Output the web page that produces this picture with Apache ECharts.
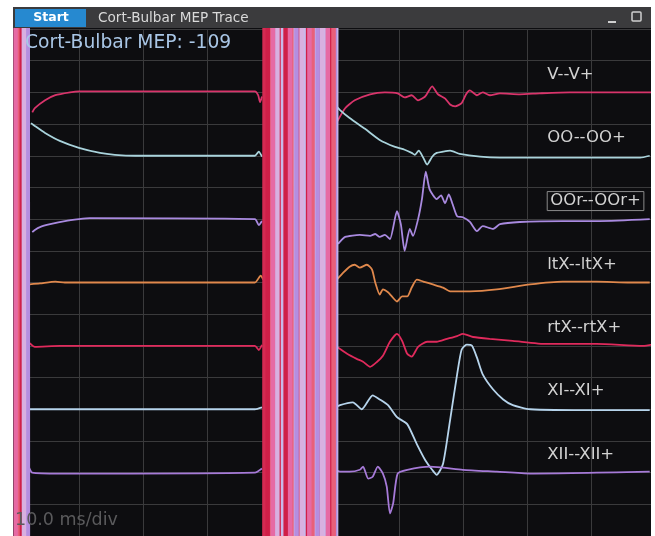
<!DOCTYPE html>
<html>
<head>
<meta charset="utf-8">
<script src="https://cdn.jsdelivr.net/npm/echarts@6/dist/echarts.min.js"></script>
<style>html,body{margin:0;padding:0;background:#fff}#c{width:655px;height:536px}</style>
</head>
<body>
<div id="c"></div>
<script>
// ---- trace names & baselines (in divisions) ----
const NAMES = ['V--V+','OO--OO+','OOr--OOr+','ltX--ltX+','rtX--rtX+','XI--XI+','XII--XII+'];
const BASES = [14, 12, 10, 8, 6, 4, 2];
const COLORS = ['#d9346b','#a9d3dc','#a98ae0','#e0884c','#e02a5c','#b6d4ec','#a67ad8'];
const ART_COLORS = ['#d42a52','#c9b9ea','#b58ee0','#e8607a','#cf1f48','#d8b0e0','#e66aa4'];

// ---- traces: [time ms, deviation in div] before and after stimulus artifact ----
const V_PRE = [[2.7,-0.63],[3.1,-0.5],[4.7,-0.25],[6.3,-0.09],[8.6,0],[10,0.03],[21.1,0.03],[37.5,0.03],[38.0,-0.09],[38.3,-0.31],[38.6,-0.13]];
const V_POST = [[50.3,-0.94],[51.6,-0.5],[53.1,-0.25],[55.5,-0.06],[57.8,0],[59.8,-0.03],[60.9,-0.16],[62.0,-0.09],[63.0,-0.25],[64.1,-0.13],[65.2,0.19],[66.1,-0.06],[67.2,-0.19],[68.0,-0.38],[68.8,-0.44],[69.8,-0.34],[70.5,-0.06],[71.1,0.06],[72.2,-0.09],[73.1,0],[74.2,-0.09],[75.8,-0.03],[78.9,-0.06],[82.0,-0.03],[86.7,0],[93.0,0],[100,0]];
const OO_PRE = [[2.5,1.03],[3.1,0.94],[4.7,0.72],[7.0,0.47],[10,0.25],[13.3,0.09],[15.6,0.03],[18.8,0],[37.5,0],[38.1,0.13],[38.6,-0.03]];
const OO_POST = [[49.8,1.66],[50.8,1.44],[52.3,1.19],[54.7,0.85],[57.0,0.5],[59.4,0.28],[60.9,0.19],[62.0,0.09],[62.5,0.03],[63.1,0.16],[63.8,-0.06],[64.4,-0.28],[65.2,-0.03],[65.9,0.09],[66.9,0.13],[68.0,0.16],[69.5,0.06],[72.7,-0.03],[75.8,-0.06],[85.2,-0.06],[97.7,-0.06],[99.2,0]];
const OOR_PRE = [[2.7,-0.41],[3.1,-0.34],[3.9,-0.25],[5.5,-0.16],[7.8,-0.06],[10,0],[11.7,0.03],[37.5,0],[38.1,-0.19],[38.6,-0.06]];
const OOR_POST = [[50.5,-0.78],[51.6,-0.56],[53.9,-0.5],[55.5,-0.53],[56.3,-0.47],[57.0,-0.56],[57.8,-0.5],[58.6,-0.63],[59.7,0.25],[60.3,-0.16],[60.9,-1.0],[61.7,-0.31],[62.2,-0.53],[63.0,0],[63.6,0.63],[64.2,1.5],[64.8,0.94],[65.9,0.63],[66.6,0.75],[67.2,0.5],[67.8,0.78],[68.4,0.47],[69.1,0.09],[70.0,0.06],[71.1,-0.09],[72.2,-0.38],[73.1,-0.22],[74.7,-0.31],[75.8,-0.16],[78.9,-0.09],[85.6,-0.06],[91.4,-0.06],[99.2,0]];
const LTX_PRE = [[2.3,-0.06],[3.9,-0.03],[6.3,0.03],[7.8,0],[37.5,0],[38.4,0.22],[38.8,0.09]];
const LTX_POST = [[50.3,0.09],[51.3,0.31],[52.3,0.5],[53.1,0.56],[53.9,0.47],[55.0,0.56],[55.8,0.41],[56.3,0],[57.0,-0.38],[57.5,-0.22],[58.3,-0.31],[58.9,-0.44],[59.7,-0.6],[60.5,-0.44],[61.3,-0.44],[62.0,-0.16],[62.8,0.09],[63.8,0.03],[65.3,-0.06],[66.9,-0.16],[68.0,-0.28],[71.1,-0.28],[75.3,-0.22],[80.5,-0.06],[85.6,0.03],[90.9,0.03],[96.1,0],[99.2,0]];
const RTX_PRE = [[2.3,0.09],[3.1,-0.03],[7.0,0],[37.5,0],[38.1,-0.13],[38.6,0.03]];
const RTX_POST = [[50.3,-0.03],[51.9,-0.25],[53.4,-0.41],[54.4,-0.5],[55.5,-0.66],[56.6,-0.5],[57.5,-0.31],[58.6,0.13],[59.7,0.38],[60.5,0.16],[61.3,-0.25],[62.0,-0.34],[63.0,-0.03],[64.4,0.13],[65.9,0.13],[67.5,0.22],[69.1,0.31],[70.0,0.38],[71.6,0.28],[74.2,0.22],[77.8,0.16],[83.1,0.06],[90.9,0.06],[98.1,0],[100,0.06]];
const XI_PRE = [[1.4,0.22],[1.9,0],[37.5,0],[38.6,0.06]];
const XI_POST = [[49.5,0],[50.8,0.13],[52.8,0.22],[54.2,0],[55.9,0.44],[57.0,0.31],[58.3,0.13],[59.7,-0.25],[61.3,-0.47],[62.8,-1.1],[64.1,-1.6],[65.2,-1.91],[65.9,-2.07],[66.9,-1.72],[68.0,-0.34],[69.1,1.1],[69.8,1.88],[70.6,2.04],[71.4,2.01],[72.2,1.63],[73.1,1.1],[74.7,0.63],[76.3,0.31],[77.8,0.13],[80.5,0],[90.9,-0.03],[99.2,-0.03]];
const XII_PRE = [[2.2,0.16],[2.7,0],[7.0,-0.03],[37.5,0],[38.6,0.13]];
const XII_POST = [[49.7,0.13],[50.8,0.03],[52.3,0.03],[53.9,0.09],[54.4,0.19],[55.2,-0.19],[55.9,-0.13],[56.7,0.19],[57.5,-0.03],[58.1,-0.44],[58.6,-1.29],[59.1,-0.97],[59.8,-0.03],[61.3,0.09],[64.8,0.19],[70.0,0.09],[75.3,0.03],[80.5,-0.03],[99.2,0.03]];

// ---- saturated stimulus artifact: times (ms) of full-scale swings per trace ----
const V_ART = [0.8, 39.0, 41.3, 42.8, 44.5, 46.2, 47.8, 49.4];
const OO_ART = [1.7, 40.0, 41.9, 43.6, 45.2, 46.9, 48.6, 50.2];
const OOR_ART = [2.0, 40.6, 44.0, 47.3, 50.0];
const LTX_ART = [0.4, 39.8, 43.2, 46.5, 49.8];
const RTX_ART = [1.1, 39.5, 42.3, 45.8, 49.0];
const XI_ART = [1.4, 41.0, 44.8, 48.0];
const XII_ART = [0.1, 40.3, 43.0, 46.0, 48.9];

const PRE = [V_PRE, OO_PRE, OOR_PRE, LTX_PRE, RTX_PRE, XI_PRE, XII_PRE];
const POST = [V_POST, OO_POST, OOR_POST, LTX_POST, RTX_POST, XI_POST, XII_POST];
const ART = [V_ART, OO_ART, OOR_ART, LTX_ART, RTX_ART, XI_ART, XII_ART];

const LABEL_T = 83.1, LABEL_DY = 0.57, ART_AMP = 30;
const FONT = '"DejaVu Sans", sans-serif';

function shift(arr, b) { return arr.map(p => [p[0], b + p[1]]); }
function stripes(times, b) {
  const pts = []; let s = 1;
  times.forEach(t => { pts.push([t - 0.04, b + s * ART_AMP]); pts.push([t + 0.04, b - s * ART_AMP]); s = -s; });
  return pts;
}

const series = [];
NAMES.forEach((n, i) => {
  const b = BASES[i];
  series.push({
    type: 'line', name: n, showSymbol: false, smooth: 0.2, animation: false,
    lineStyle: { color: COLORS[i], width: 1.8 },
    data: shift(PRE[i], b).concat([[null, null]], shift(POST[i], b)),
    markPoint: {
      silent: true, animation: false, symbol: 'rect', symbolSize: 1,
      itemStyle: { color: 'rgba(0,0,0,0)' },
      label: {
        show: true, position: 'right', distance: 0, formatter: n,
        color: '#d2d2d2', fontSize: 16.5, fontFamily: FONT,
        borderColor: i === 2 ? '#8a8a8a' : 'transparent', borderWidth: i === 2 ? 1 : 0,
        padding: i === 2 ? [1, 3, 1, 3] : 0
      },
      data: [{ coord: [LABEL_T, b + LABEL_DY] }]
    }
  });
});
NAMES.forEach((n, i) => {
  series.push({
    type: 'line', name: n + ' artifact', showSymbol: false, animation: false,
    lineStyle: { color: ART_COLORS[i], width: 4.5 },
    data: stripes(ART[i], BASES[i])
  });
});

const chart = echarts.init(document.getElementById('c'), null, { renderer: 'canvas' });
chart.setOption({
  backgroundColor: '#0d0d10',
  animation: false,
  grid: { left: 15, right: 4, top: 29, bottom: -3 },
  xAxis: {
    type: 'value', min: 0, max: 99.4, interval: 10,
    axisLine: { show: false }, axisTick: { show: false }, axisLabel: { show: false },
    splitLine: { show: true, lineStyle: { color: '#3a3a3c', width: 1 } }
  },
  yAxis: {
    type: 'value', min: 0, max: 16, interval: 1,
    axisLine: { show: false }, axisTick: { show: false }, axisLabel: { show: false },
    splitLine: { show: true, lineStyle: { color: '#3a3a3c', width: 1 } }
  },
  series: series,
  graphic: [
    { type: 'rect', z: 100, shape: { x: 0, y: 0, width: 655, height: 7 }, style: { fill: '#ffffff' } },
    { type: 'rect', z: 100, shape: { x: 0, y: 0, width: 13, height: 536 }, style: { fill: '#ffffff' } },
    { type: 'rect', z: 100, shape: { x: 651, y: 0, width: 4, height: 536 }, style: { fill: '#ffffff' } },
    { type: 'rect', z: 100, shape: { x: 13, y: 7, width: 638, height: 21 }, style: { fill: '#3b3b3d' } },
    { type: 'rect', z: 101, shape: { x: 15, y: 9, width: 71, height: 18 }, style: { fill: '#2689d0' } },
    { type: 'text', z: 102, x: 51, y: 18, style: { text: 'Start', fill: '#ffffff', font: 'bold 12.5px ' + FONT, textAlign: 'center', textVerticalAlign: 'middle' } },
    { type: 'text', z: 102, x: 98, y: 18, style: { text: 'Cort-Bulbar MEP Trace', fill: '#dadada', font: '13.6px ' + FONT, textAlign: 'left', textVerticalAlign: 'middle' } },
    { type: 'rect', z: 102, shape: { x: 608, y: 21, width: 8, height: 2 }, style: { fill: '#d0d0d0' } },
    { type: 'rect', z: 102, shape: { x: 632, y: 12, width: 9, height: 9, r: 1 }, style: { fill: 'none', stroke: '#d0d0d0', lineWidth: 1.5 } },
    { type: 'text', z: 100, x: 25, y: 43, style: { text: 'Cort-Bulbar MEP: -109', fill: '#a9c6e6', font: '18.7px ' + FONT, textAlign: 'left', textVerticalAlign: 'middle' } },
    { type: 'text', z: 100, x: 15, y: 520, style: { text: '10.0 ms/div', fill: '#5a5a5c', font: '17.5px ' + FONT, textAlign: 'left', textVerticalAlign: 'middle' } }
  ]
});
</script>
</body>
</html>
